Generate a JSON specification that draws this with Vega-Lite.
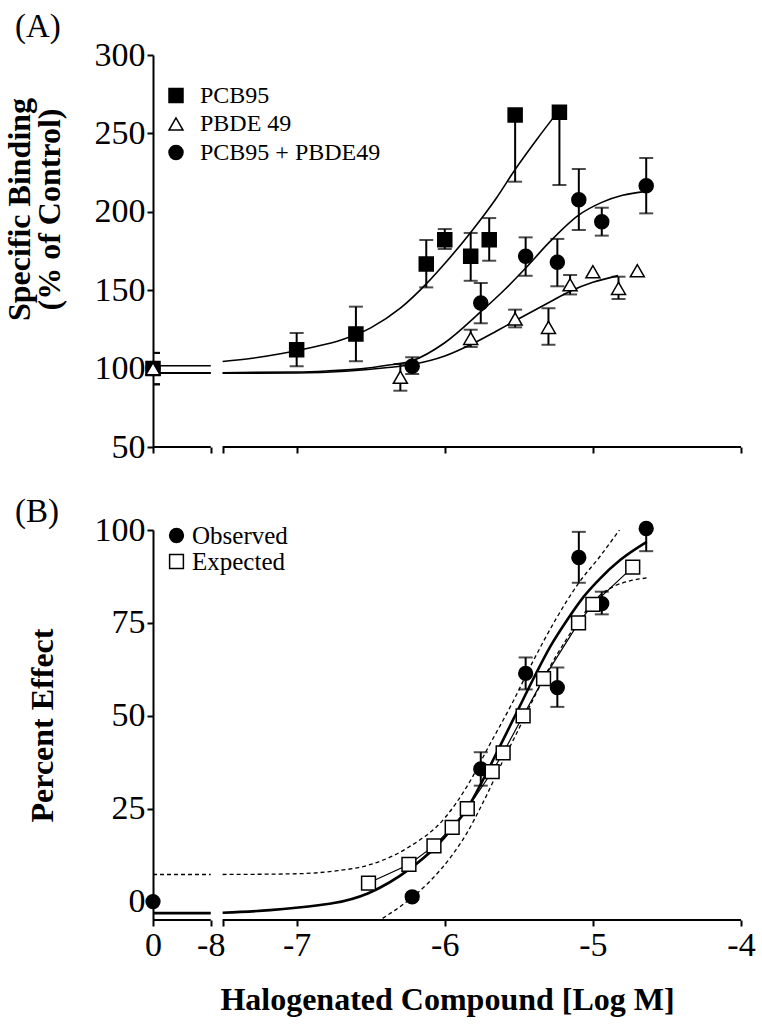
{
  "$schema": "https://vega.github.io/schema/vega-lite/v6.json",
  "background": "white",
  "padding": {"left": 2, "top": 11, "right": 5, "bottom": 5},
  "bounds": "flush",
  "spacing": 83,
  "resolve": {"scale": {"shape": "independent", "fill": "independent", "stroke": "independent"}, "legend": {"shape": "independent", "fill": "independent", "stroke": "independent"}},
  "config": {
    "view": {"stroke": null},
    "axis": {
      "labelFont": "Liberation Serif", "titleFont": "Liberation Serif",
      "labelColor": "black", "titleColor": "black", "domainColor": "black", "tickColor": "black",
      "grid": false, "domainWidth": 2, "tickWidth": 2, "tickSize": 6,
      "labelFontSize": 34, "titleFontSize": 32, "titleFontWeight": "bold", "labelPadding": 2
    },
    "legend": {"labelFont": "Liberation Serif", "labelColor": "black"}
  },
  "datasets": {
    "axis_segs": [{"x": -7.97, "x2": -7.58}, {"x": -7.5, "x2": -4}],
    "a_pts": [
      {"series": "PCB95", "x": -7.97, "y": 100, "lo": 90, "hi": 110},
      {"series": "PCB95", "x": -7.0, "y": 112.1, "lo": 101.5, "hi": 122.7},
      {"series": "PCB95", "x": -6.6, "y": 122.1, "lo": 104.7, "hi": 139.5},
      {"series": "PCB95", "x": -6.125, "y": 166.7, "lo": 151.8, "hi": 182},
      {"series": "PCB95", "x": -6.0, "y": 182.2, "lo": 176.3, "hi": 189},
      {"series": "PCB95", "x": -5.825, "y": 171.6, "lo": 156, "hi": 186.5},
      {"series": "PCB95", "x": -5.7, "y": 182.2, "lo": 168.8, "hi": 196},
      {"series": "PCB95", "x": -5.525, "y": 261.7, "lo": 219.2, "hi": 261.7},
      {"series": "PCB95", "x": -5.226, "y": 263.5, "lo": 217.1, "hi": 263.5},
      {"series": "PCB95 + PBDE49", "x": -7.97, "y": 100, "lo": 90, "hi": 110},
      {"series": "PCB95 + PBDE49", "x": -6.22, "y": 101.5, "lo": 96.6, "hi": 107.2},
      {"series": "PCB95 + PBDE49", "x": -5.757, "y": 141.8, "lo": 128.9, "hi": 154.6},
      {"series": "PCB95 + PBDE49", "x": -5.454, "y": 171.6, "lo": 159.2, "hi": 183.7},
      {"series": "PCB95 + PBDE49", "x": -5.24, "y": 167.8, "lo": 152.5, "hi": 182.7},
      {"series": "PCB95 + PBDE49", "x": -5.095, "y": 207.7, "lo": 188.4, "hi": 227.3},
      {"series": "PCB95 + PBDE49", "x": -4.94, "y": 193.7, "lo": 184.8, "hi": 202.6},
      {"series": "PCB95 + PBDE49", "x": -4.64, "y": 216.6, "lo": 199, "hi": 234.3},
      {"series": "PBDE 49", "x": -7.97, "y": 100, "lo": 90, "hi": 110},
      {"series": "PBDE 49", "x": -6.3, "y": 94.5, "lo": 85.9, "hi": 102.9},
      {"series": "PBDE 49", "x": -5.825, "y": 119.3, "lo": 113.8, "hi": 124.8},
      {"series": "PBDE 49", "x": -5.525, "y": 131.6, "lo": 126.3, "hi": 137.6},
      {"series": "PBDE 49", "x": -5.3, "y": 126.3, "lo": 115.2, "hi": 138.5},
      {"series": "PBDE 49", "x": -5.154, "y": 153.5, "lo": 147.3, "hi": 159.7},
      {"series": "PBDE 49", "x": -5.0, "y": 161.8},
      {"series": "PBDE 49", "x": -4.827, "y": 151.2, "lo": 144.4, "hi": 158.6},
      {"series": "PBDE 49", "x": -4.7, "y": 162.4}
    ],
    "a_fit": [
      {"series": "PCB95", "seg": "L", "x": -7.97, "y": 101.8},
      {"series": "PCB95", "seg": "L", "x": -7.58, "y": 101.8},
      {"series": "PCB95", "seg": "R", "x": -7.5, "y": 104.5},
      {"series": "PCB95", "seg": "R", "x": -7.3, "y": 106.6},
      {"series": "PCB95", "seg": "R", "x": -7.1, "y": 109.6},
      {"series": "PCB95", "seg": "R", "x": -6.9, "y": 113.5},
      {"series": "PCB95", "seg": "R", "x": -6.7, "y": 118.3},
      {"series": "PCB95", "seg": "R", "x": -6.5, "y": 126},
      {"series": "PCB95", "seg": "R", "x": -6.3, "y": 138.5},
      {"series": "PCB95", "seg": "R", "x": -6.125, "y": 154},
      {"series": "PCB95", "seg": "R", "x": -6.0, "y": 167},
      {"series": "PCB95", "seg": "R", "x": -5.82, "y": 187.5},
      {"series": "PCB95", "seg": "R", "x": -5.65, "y": 209},
      {"series": "PCB95", "seg": "R", "x": -5.525, "y": 227},
      {"series": "PCB95", "seg": "R", "x": -5.38, "y": 246},
      {"series": "PCB95", "seg": "R", "x": -5.226, "y": 265},
      {"series": "Mix", "seg": "L", "x": -7.97, "y": 97.3},
      {"series": "Mix", "seg": "L", "x": -7.58, "y": 97.3},
      {"series": "Mix", "seg": "R", "x": -7.5, "y": 97.4},
      {"series": "Mix", "seg": "R", "x": -7.0, "y": 97.8},
      {"series": "Mix", "seg": "R", "x": -6.8, "y": 98.5},
      {"series": "Mix", "seg": "R", "x": -6.55, "y": 100},
      {"series": "Mix", "seg": "R", "x": -6.4, "y": 102},
      {"series": "Mix", "seg": "R", "x": -6.22, "y": 105},
      {"series": "Mix", "seg": "R", "x": -6.0, "y": 116.5},
      {"series": "Mix", "seg": "R", "x": -5.76, "y": 136},
      {"series": "Mix", "seg": "R", "x": -5.6, "y": 150},
      {"series": "Mix", "seg": "R", "x": -5.455, "y": 164},
      {"series": "Mix", "seg": "R", "x": -5.3, "y": 180},
      {"series": "Mix", "seg": "R", "x": -5.1, "y": 197.6},
      {"series": "Mix", "seg": "R", "x": -4.94, "y": 206},
      {"series": "Mix", "seg": "R", "x": -4.8, "y": 210.5},
      {"series": "Mix", "seg": "R", "x": -4.64, "y": 213},
      {"series": "PBDE", "seg": "L", "x": -7.97, "y": 97},
      {"series": "PBDE", "seg": "L", "x": -7.58, "y": 97},
      {"series": "PBDE", "seg": "R", "x": -7.5, "y": 97},
      {"series": "PBDE", "seg": "R", "x": -7.0, "y": 97.2},
      {"series": "PBDE", "seg": "R", "x": -6.67, "y": 98.3},
      {"series": "PBDE", "seg": "R", "x": -6.4, "y": 100.5},
      {"series": "PBDE", "seg": "R", "x": -6.22, "y": 102.6},
      {"series": "PBDE", "seg": "R", "x": -6.0, "y": 108},
      {"series": "PBDE", "seg": "R", "x": -5.82, "y": 115.5},
      {"series": "PBDE", "seg": "R", "x": -5.65, "y": 124},
      {"series": "PBDE", "seg": "R", "x": -5.525, "y": 130.5},
      {"series": "PBDE", "seg": "R", "x": -5.3, "y": 142},
      {"series": "PBDE", "seg": "R", "x": -5.15, "y": 149.5},
      {"series": "PBDE", "seg": "R", "x": -5.0, "y": 155},
      {"series": "PBDE", "seg": "R", "x": -4.83, "y": 159.3}
    ],
    "b_pts": [
      {"series": "Observed", "x": -7.97, "y": 0},
      {"series": "Observed", "x": -6.22, "y": 1.3},
      {"series": "Observed", "x": -5.757, "y": 35.7, "lo": 31.2, "hi": 40.2},
      {"series": "Observed", "x": -5.454, "y": 61.4, "lo": 57.1, "hi": 65.7},
      {"series": "Observed", "x": -5.24, "y": 57.6, "lo": 52.4, "hi": 63},
      {"series": "Observed", "x": -5.095, "y": 92.6, "lo": 85.8, "hi": 99.5},
      {"series": "Observed", "x": -4.94, "y": 80.2, "lo": 77.3, "hi": 83.4},
      {"series": "Observed", "x": -4.64, "y": 100.4, "lo": 94.3, "hi": 106.5},
      {"series": "Expected", "x": -6.515, "y": 5},
      {"series": "Expected", "x": -6.242, "y": 10},
      {"series": "Expected", "x": -6.073, "y": 15},
      {"series": "Expected", "x": -5.95, "y": 20},
      {"series": "Expected", "x": -5.848, "y": 25},
      {"series": "Expected", "x": -5.68, "y": 35},
      {"series": "Expected", "x": -5.606, "y": 40},
      {"series": "Expected", "x": -5.471, "y": 50},
      {"series": "Expected", "x": -5.333, "y": 60},
      {"series": "Expected", "x": -5.097, "y": 75},
      {"series": "Expected", "x": -5.0, "y": 80},
      {"series": "Expected", "x": -4.731, "y": 90}
    ],
    "b_fit": [
      {"curve": "fit", "seg": "L", "x": -7.97, "y": -3.1},
      {"curve": "fit", "seg": "L", "x": -7.58, "y": -3.1},
      {"curve": "fit", "seg": "R", "x": -7.5, "y": -3.0},
      {"curve": "fit", "seg": "R", "x": -7.18, "y": -2.3},
      {"curve": "fit", "seg": "R", "x": -6.84, "y": -0.9},
      {"curve": "fit", "seg": "R", "x": -6.75, "y": -0.4},
      {"curve": "fit", "seg": "R", "x": -6.52, "y": 2.2},
      {"curve": "fit", "seg": "R", "x": -6.23, "y": 9.0},
      {"curve": "fit", "seg": "R", "x": -6.073, "y": 14.3},
      {"curve": "fit", "seg": "R", "x": -5.95, "y": 19.7},
      {"curve": "fit", "seg": "R", "x": -5.848, "y": 25.1},
      {"curve": "fit", "seg": "R", "x": -5.748, "y": 32.3},
      {"curve": "fit", "seg": "R", "x": -5.624, "y": 42.1},
      {"curve": "fit", "seg": "R", "x": -5.512, "y": 51.1},
      {"curve": "fit", "seg": "R", "x": -5.4, "y": 60.1},
      {"curve": "fit", "seg": "R", "x": -5.288, "y": 68.6},
      {"curve": "fit", "seg": "R", "x": -5.175, "y": 75.7},
      {"curve": "fit", "seg": "R", "x": -5.063, "y": 82},
      {"curve": "fit", "seg": "R", "x": -4.95, "y": 87},
      {"curve": "fit", "seg": "R", "x": -4.816, "y": 91.9},
      {"curve": "fit", "seg": "R", "x": -4.636, "y": 96.8},
      {"curve": "upper", "seg": "L", "x": -7.97, "y": 7.3},
      {"curve": "upper", "seg": "L", "x": -7.58, "y": 7.3},
      {"curve": "upper", "seg": "R", "x": -7.5, "y": 7.3},
      {"curve": "upper", "seg": "R", "x": -7.0, "y": 7.5},
      {"curve": "upper", "seg": "R", "x": -6.75, "y": 8.2},
      {"curve": "upper", "seg": "R", "x": -6.5, "y": 10},
      {"curve": "upper", "seg": "R", "x": -6.25, "y": 14.5},
      {"curve": "upper", "seg": "R", "x": -6.0, "y": 22.5},
      {"curve": "upper", "seg": "R", "x": -5.85, "y": 31},
      {"curve": "upper", "seg": "R", "x": -5.7, "y": 42},
      {"curve": "upper", "seg": "R", "x": -5.55, "y": 53},
      {"curve": "upper", "seg": "R", "x": -5.4, "y": 65},
      {"curve": "upper", "seg": "R", "x": -5.25, "y": 76},
      {"curve": "upper", "seg": "R", "x": -5.1, "y": 85.5},
      {"curve": "upper", "seg": "R", "x": -4.95, "y": 93},
      {"curve": "upper", "seg": "R", "x": -4.816, "y": 100.3},
      {"curve": "lower", "seg": "R", "x": -6.5, "y": -6.5},
      {"curve": "lower", "seg": "R", "x": -6.4, "y": -4.0},
      {"curve": "lower", "seg": "R", "x": -6.3, "y": -1.3},
      {"curve": "lower", "seg": "R", "x": -6.2, "y": 1.8},
      {"curve": "lower", "seg": "R", "x": -6.1, "y": 5.5},
      {"curve": "lower", "seg": "R", "x": -5.95, "y": 12.5},
      {"curve": "lower", "seg": "R", "x": -5.85, "y": 18.5},
      {"curve": "lower", "seg": "R", "x": -5.75, "y": 26},
      {"curve": "lower", "seg": "R", "x": -5.6, "y": 38.5},
      {"curve": "lower", "seg": "R", "x": -5.5, "y": 46.5},
      {"curve": "lower", "seg": "R", "x": -5.4, "y": 54.7},
      {"curve": "lower", "seg": "R", "x": -5.3, "y": 62.5},
      {"curve": "lower", "seg": "R", "x": -5.175, "y": 70.8},
      {"curve": "lower", "seg": "R", "x": -5.05, "y": 78},
      {"curve": "lower", "seg": "R", "x": -4.95, "y": 82.5},
      {"curve": "lower", "seg": "R", "x": -4.85, "y": 85},
      {"curve": "lower", "seg": "R", "x": -4.75, "y": 86.3},
      {"curve": "lower", "seg": "R", "x": -4.636, "y": 87.1}
    ]
  },
  "vconcat": [
    {
      "width": 588,
      "height": 392,
      "title": {"text": "(A)", "anchor": "start", "frame": "group", "dx": -138, "offset": -6, "fontSize": 33, "font": "Liberation Serif", "fontWeight": "normal", "color": "black"},
      "layer": [
        {
          "data": {"name": "axis_segs"},
          "mark": {"type": "rule", "strokeWidth": 2, "color": "black"},
          "encoding": {
            "x": {"field": "x", "type": "quantitative", "scale": {"domain": [-7.97, -4], "nice": false, "zero": false},
                  "axis": {"values": [-7.97, -7.58, -7.5, -7, -6, -5, -4], "labels": false, "domain": false, "title": null}},
            "x2": {"field": "x2"},
            "y": {"datum": 50, "type": "quantitative", "scale": {"domain": [50, 300], "nice": false, "zero": false},
                  "axis": {"values": [50, 100, 150, 200, 250, 300], "title": ["Specific Binding", "(% of Control)"],
                           "titleX": -134, "titleY": 154, "titleAngle": -90, "titleBaseline": "middle", "titleAlign": "center", "titleLineHeight": 30}}
          }
        },
        {
          "data": {"name": "a_fit"},
          "mark": {"type": "line", "color": "black", "strokeWidth": 1.6, "interpolate": "monotone"},
          "encoding": {
            "x": {"field": "x", "type": "quantitative"},
            "y": {"field": "y", "type": "quantitative"},
            "detail": [{"field": "series"}, {"field": "seg"}]
          }
        },
        {
          "data": {"name": "a_pts"},
          "transform": [{"filter": "isValid(datum.lo)"}],
          "mark": {"type": "rule", "color": "black", "strokeWidth": 2, "clip": true},
          "encoding": {
            "x": {"field": "x", "type": "quantitative"},
            "y": {"field": "lo", "type": "quantitative"},
            "y2": {"field": "hi"}
          }
        },
        {
          "data": {"name": "a_pts"},
          "transform": [{"filter": "isValid(datum.lo)"}],
          "mark": {"type": "tick", "orient": "horizontal", "color": "black", "size": 14, "thickness": 2, "clip": true},
          "encoding": {
            "x": {"field": "x", "type": "quantitative"},
            "y": {"field": "lo", "type": "quantitative"}
          }
        },
        {
          "data": {"name": "a_pts"},
          "transform": [{"filter": "isValid(datum.hi) && datum.hi > datum.y"}],
          "mark": {"type": "tick", "orient": "horizontal", "color": "black", "size": 14, "thickness": 2, "clip": true},
          "encoding": {
            "x": {"field": "x", "type": "quantitative"},
            "y": {"field": "hi", "type": "quantitative"}
          }
        },
        {
          "data": {"name": "a_pts"},
          "mark": {"type": "point", "filled": true, "strokeWidth": 1.5, "size": 196, "opacity": 1},
          "encoding": {
            "x": {"field": "x", "type": "quantitative"},
            "y": {"field": "y", "type": "quantitative"},
            "shape": {"field": "series", "type": "nominal",
                      "scale": {"domain": ["PCB95", "PBDE 49", "PCB95 + PBDE49"], "range": ["square", "triangle-up", "circle"]},
                      "legend": {"orient": "none", "legendX": 11, "legendY": 28.5, "title": null, "labelFontSize": 24, "labelFont": "Liberation Serif", "labelColor": "black",
                                 "symbolSize": 196, "symbolStrokeWidth": 1.5, "labelOffset": 12, "rowPadding": 4.5, "labelLimit": 400, "padding": 0}},
            "fill": {"field": "series", "type": "nominal",
                     "scale": {"domain": ["PCB95", "PBDE 49", "PCB95 + PBDE49"], "range": ["black", "white", "black"]},
                     "legend": {"orient": "none", "legendX": 11, "legendY": 28.5, "title": null, "labelFontSize": 24, "labelFont": "Liberation Serif", "labelColor": "black",
                                "symbolSize": 196, "symbolStrokeWidth": 1.5, "labelOffset": 12, "rowPadding": 4.5, "labelLimit": 400, "padding": 0}},
            "stroke": {"field": "series", "type": "nominal",
                       "scale": {"domain": ["PCB95", "PBDE 49", "PCB95 + PBDE49"], "range": ["black", "black", "black"]},
                       "legend": {"orient": "none", "legendX": 11, "legendY": 28.5, "title": null, "labelFontSize": 24, "labelFont": "Liberation Serif", "labelColor": "black",
                                  "symbolSize": 196, "symbolStrokeWidth": 1.5, "labelOffset": 12, "rowPadding": 4.5, "labelLimit": 400, "padding": 0}}
          }
        }
      ]
    },
    {
      "width": 588,
      "height": 390,
      "title": {"text": "(B)", "anchor": "start", "frame": "group", "dx": -138, "offset": -16, "fontSize": 33, "font": "Liberation Serif", "fontWeight": "normal", "color": "black"},
      "layer": [
        {
          "data": {"name": "axis_segs"},
          "mark": {"type": "rule", "strokeWidth": 2, "color": "black"},
          "encoding": {
            "x": {"field": "x", "type": "quantitative", "scale": {"domain": [-7.97, -4], "nice": false, "zero": false},
                  "axis": {"values": [-7.97, -7.58, -7.5, -7, -6, -5, -4], "domain": false, "labelOverlap": false, "labelFlush": false,
                           "labelExpr": "datum.value < -7.9 ? '0' : datum.value < -7.55 ? '-8' : datum.value < -7.4 ? '' : '' + datum.value",
                           "title": "Halogenated Compound [Log M]", "titlePadding": 22}},
            "x2": {"field": "x2"},
            "y": {"datum": -4.95, "type": "quantitative", "scale": {"domain": [-4.95, 100], "nice": false, "zero": false},
                  "axis": {"values": [0, 25, 50, 75, 100], "title": "Percent Effect",
                           "titleX": -111, "titleY": 195, "titleAngle": -90, "titleBaseline": "middle", "titleAlign": "center"}}
          }
        },
        {
          "data": {"name": "b_fit"},
          "transform": [{"filter": "datum.curve !== 'fit'"}],
          "mark": {"type": "line", "color": "black", "strokeWidth": 1.3, "strokeDash": [4, 3], "interpolate": "monotone", "clip": true},
          "encoding": {
            "x": {"field": "x", "type": "quantitative"},
            "y": {"field": "y", "type": "quantitative"},
            "detail": [{"field": "curve"}, {"field": "seg"}]
          }
        },
        {
          "data": {"name": "b_fit"},
          "transform": [{"filter": "datum.curve === 'fit'"}],
          "mark": {"type": "line", "color": "black", "strokeWidth": 2.6, "interpolate": "monotone", "clip": true},
          "encoding": {
            "x": {"field": "x", "type": "quantitative"},
            "y": {"field": "y", "type": "quantitative"},
            "detail": {"field": "seg"}
          }
        },
        {
          "data": {"name": "b_pts"},
          "transform": [{"filter": "datum.series === 'Expected'"}],
          "mark": {"type": "line", "color": "black", "strokeWidth": 1.2},
          "encoding": {
            "x": {"field": "x", "type": "quantitative"},
            "y": {"field": "y", "type": "quantitative"}
          }
        },
        {
          "data": {"name": "b_pts"},
          "transform": [{"filter": "isValid(datum.lo)"}],
          "mark": {"type": "rule", "color": "black", "strokeWidth": 2, "clip": true},
          "encoding": {
            "x": {"field": "x", "type": "quantitative"},
            "y": {"field": "lo", "type": "quantitative"},
            "y2": {"field": "hi"}
          }
        },
        {
          "data": {"name": "b_pts"},
          "transform": [{"filter": "isValid(datum.lo)"}],
          "mark": {"type": "tick", "orient": "horizontal", "color": "black", "size": 14, "thickness": 2, "clip": true},
          "encoding": {
            "x": {"field": "x", "type": "quantitative"},
            "y": {"field": "lo", "type": "quantitative"}
          }
        },
        {
          "data": {"name": "b_pts"},
          "transform": [{"filter": "isValid(datum.hi)"}],
          "mark": {"type": "tick", "orient": "horizontal", "color": "black", "size": 14, "thickness": 2, "clip": true},
          "encoding": {
            "x": {"field": "x", "type": "quantitative"},
            "y": {"field": "hi", "type": "quantitative"}
          }
        },
        {
          "data": {"name": "b_pts"},
          "mark": {"type": "point", "filled": true, "strokeWidth": 1.5, "size": 190, "opacity": 1},
          "encoding": {
            "x": {"field": "x", "type": "quantitative"},
            "y": {"field": "y", "type": "quantitative"},
            "shape": {"field": "series", "type": "nominal",
                      "scale": {"domain": ["Observed", "Expected"], "range": ["circle", "square"]},
                      "legend": {"orient": "none", "legendX": 11, "legendY": -7, "title": null, "labelFontSize": 25, "labelFont": "Liberation Serif", "labelColor": "black",
                                 "symbolSize": 190, "symbolStrokeWidth": 1.5, "labelOffset": 3, "rowPadding": 0, "labelLimit": 400, "padding": 0}},
            "fill": {"field": "series", "type": "nominal",
                     "scale": {"domain": ["Observed", "Expected"], "range": ["black", "white"]},
                     "legend": {"orient": "none", "legendX": 11, "legendY": -7, "title": null, "labelFontSize": 25, "labelFont": "Liberation Serif", "labelColor": "black",
                                "symbolSize": 190, "symbolStrokeWidth": 1.5, "labelOffset": 3, "rowPadding": 0, "labelLimit": 400, "padding": 0}},
            "stroke": {"field": "series", "type": "nominal",
                       "scale": {"domain": ["Observed", "Expected"], "range": ["black", "black"]},
                       "legend": {"orient": "none", "legendX": 11, "legendY": -7, "title": null, "labelFontSize": 25, "labelFont": "Liberation Serif", "labelColor": "black",
                                  "symbolSize": 190, "symbolStrokeWidth": 1.5, "labelOffset": 3, "rowPadding": 0, "labelLimit": 400, "padding": 0}}
          }
        }
      ]
    }
  ]
}
